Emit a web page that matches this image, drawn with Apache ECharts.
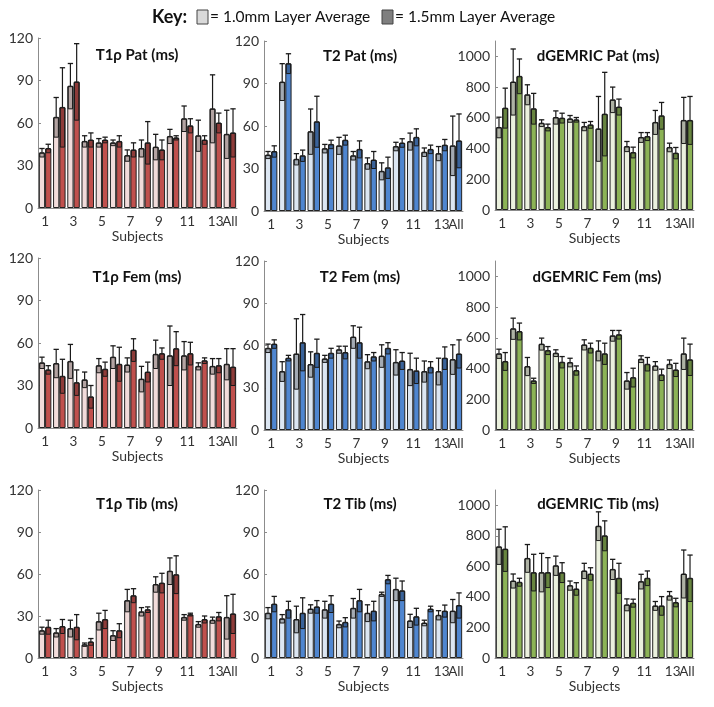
<!DOCTYPE html>
<html>
<head>
<meta charset="utf-8">
<script src="https://cdn.jsdelivr.net/npm/echarts@6/dist/echarts.min.js"></script>
<style>html,body{margin:0;padding:0;background:#fff}#c{width:714px;height:707px}</style>
</head>
<body>
<div id="c"></div>
<script>
const categories = ['1','2','3','4','5','6','7','8','9','10','11','12','13','All'];
const yTicksT = [0, 30, 60, 90, 120];
const yTicksD = [0, 200, 400, 600, 800, 1000];

// T1rho Pat
const t1rPat10 = [39,64,86,47,46,46,37,42,43,50.5,63,51,70,52];
const t1rPat10SD = [3,14,16,4,3,2,4,6,9,5,9,11,24,17];
const t1rPat15 = [42,71,89,48,48,47,41,46,41,49.5,58,48,60,53];
const t1rPat15SD = [3,28,27,5,2,4,5,15,7,1.5,5,3,7,17];
// T2 Pat
const t2Pat10 = [39.5,91,36.5,56,44,46,39,33.5,28,45.5,49,41.5,40.5,46];
const t2Pat10SD = [2.5,13,4,16,3,6,3,4,6,3,6,3,5,21];
const t2Pat15 = [42,104,39,63,47,50,43.5,36,30.5,48,52,43.5,46.5,49.5];
const t2Pat15SD = [4,7,4,18,3,3.5,6,6,7.5,3,6,3,4,19];
// dGEMRIC Pat
const dgPat10 = [537,833,750,565,602,593,543,528,717,413,472,570,407,583];
const dgPat10SD = [67,215,65,22,43,22,27,211,83,33,32,78,28,150];
const dgPat15 = [663,870,659,537,598,587,554,624,670,374,478,613,370,583];
const dgPat15SD = [130,113,100,22,32,15,22,272,52,35,26,87,37,156];
// T1rho Fem
const t1rFem10 = [46,45.5,47,34,44,50,44.5,34.5,52,51,51,43.5,43.5,45];
const t1rFem10SD = [4,10,12,5.5,5,8,5,9,10,21,10,2.5,5.5,11];
const t1rFem15 = [41,36.5,32,22,41.5,45,55,39.5,52.5,56,52.5,47.5,44,43];
const t1rFem15SD = [3,12,9,8,5,12,8,7,4,12,8,2,5,13];
// T2 Fem
const t2Fem10 = [58,41.5,54,46.5,50.5,57,66,48.5,52.5,48,43,41.5,41.5,50];
const t2Fem10SD = [3,7,25,9,2.5,2.5,8,5,8,9,11.5,7.5,9.5,10.5];
const t2Fem15 = [61,51,62,54.5,54.5,55,62,52,58,49,42,44.5,51,54];
const t2Fem15SD = [3,2,20,10,3.5,4.5,11,3,4,6,9,4,8,10];
// dGEMRIC Fem
const dgFem10 = [496,659,413,559,500,439,554,515,613,320,461,417,428,496];
const dgFem10SD = [30,69,59,39,22,28,33,65,35,54,22,28,28,102];
const dgFem15 = [446,641,320,517,441,387,533,496,620,341,428,359,391,457];
const dgFem15SD = [58,55,17,26,37,30,32,69,28,61,44,37,43,102];
// T1rho Tib
const t1rTib10 = [19.5,18,21,9.5,26,16,41,33,52.5,62,29,24,27,29];
const t1rTib10SD = [2.5,3,6,1.2,6,3.5,8,3,5.5,9.5,2,2,2.2,15.5];
const t1rTib15 = [22,22.5,22,11.5,27.5,19.5,44.5,34.5,53.5,59.5,31,27.5,29.5,31.5];
const t1rTib15SD = [5,5,9,2.4,6.5,5,5,2,7,13.5,1,2.5,3,14];
// T2 Tib
const t2Tib10 = [32,28,27.5,35,34.5,24,35.5,32,45.5,49,26.5,25,30.5,33.5];
const t2Tib10SD = [4,3,9.5,3,6,2.4,7,6,1.5,8,4.7,2,3.3,8.3];
const t2Tib15 = [38.5,34.5,32,36.5,38.5,25.5,41,33.5,56,48,29.5,35,33.5,37.5];
const t2Tib15SD = [5.5,6,11,4.5,6,3.3,8,7,3,7,6,2,4.3,9];
// dGEMRIC Tib
const dgTib10 = [728,504,652,559,604,474,570,863,580,348,500,341,407,550];
const dgTib10SD = [115,46,91,126,63,30,50,94,66,39,48,29,28,157];
const dgTib15 = [713,496,559,559,559,452,550,800,522,359,522,341,363,522];
const dgTib15SD = [146,26,120,98,65,41,41,98,98,26,48,61,28,152];

const titles = ['T1\u03C1 Pat (ms)','T2 Pat (ms)','dGEMRIC Pat (ms)',
                'T1\u03C1 Fem (ms)','T2 Fem (ms)','dGEMRIC Fem (ms)',
                'T1\u03C1 Tib (ms)','T2 Tib (ms)','dGEMRIC Tib (ms)'];

const panels = [
  {m10:t1rPat10,s10:t1rPat10SD,m15:t1rPat15,s15:t1rPat15SD,kind:'r'},
  {m10:t2Pat10,s10:t2Pat10SD,m15:t2Pat15,s15:t2Pat15SD,kind:'b'},
  {m10:dgPat10,s10:dgPat10SD,m15:dgPat15,s15:dgPat15SD,kind:'g'},
  {m10:t1rFem10,s10:t1rFem10SD,m15:t1rFem15,s15:t1rFem15SD,kind:'r'},
  {m10:t2Fem10,s10:t2Fem10SD,m15:t2Fem15,s15:t2Fem15SD,kind:'b'},
  {m10:dgFem10,s10:dgFem10SD,m15:dgFem15,s15:dgFem15SD,kind:'g'},
  {m10:t1rTib10,s10:t1rTib10SD,m15:t1rTib15,s15:t1rTib15SD,kind:'r'},
  {m10:t2Tib10,s10:t2Tib10SD,m15:t2Tib15,s15:t2Tib15SD,kind:'b'},
  {m10:dgTib10,s10:dgTib10SD,m15:dgTib15,s15:dgTib15SD,kind:'g'}
];

const palette = {
  r: {light:'#f2dcdb', dark:'#c0504d'},
  b: {light:'#dce6f2', dark:'#4f86d0'},
  g: {light:'#ebf1de', dark:'#8cb356'}
};

// layout: [left, top, width, height]
const gridBoxes = [
  [38,38,199,170],[264,41,199,170],[495,41,199,169],
  [38,258,199,170],[264,261,199,169],[495,261,199,169],
  [38,490,199,168],[264,490,199,168],[495,490,199,168]
];
const titlePos = [
  [137,55],[360,56],[598,56],
  [137,277],[360,277],[597,277],
  [137,504],[360,504],[598,504]
];

const FONT = 'Lato, "Open Sans", sans-serif';
const GAP = 0.12;

function errRenderer(sign) {
  return function (params, api) {
    const i = api.value(0), m = api.value(1), sd = api.value(2);
    const band = api.size([1, 0])[0];
    const bw = band * (1 - GAP) / 2;
    const cx = api.coord([i, 0])[0] + sign * bw / 2;
    const yTop = api.coord([i, m + sd])[1];
    const yMean = api.coord([i, m])[1];
    const yLow = api.coord([i, Math.max(0, m - sd)])[1];
    const boxW = bw * 0.7, capW = bw * 0.85;
    return {
      type: 'group',
      children: [
        {type:'rect', shape:{x:cx-boxW/2, y:yMean, width:boxW, height:yLow-yMean},
         style:{fill:'rgba(0,0,0,0.26)', stroke:'#1a1a1a', lineWidth:1}},
        {type:'line', shape:{x1:cx, y1:yMean, x2:cx, y2:yTop},
         style:{stroke:'#1a1a1a', lineWidth:1.2}},
        {type:'line', shape:{x1:cx-capW/2, y1:yTop, x2:cx+capW/2, y2:yTop},
         style:{stroke:'#1a1a1a', lineWidth:1.3}}
      ]
    };
  };
}

const grid = [], xAxis = [], yAxis = [], series = [], graphic = [];
panels.forEach((p, k) => {
  const g = gridBoxes[k];
  grid.push({left:g[0], top:g[1], width:g[2], height:g[3], containLabel:false});
  xAxis.push({
    type:'category', gridIndex:k, data:categories,
    axisLine:{show:true, lineStyle:{color:'#8c8c8c', width:1}},
    axisTick:{show:false},
    axisLabel:{
      interval:0, hideOverlap:false,
      formatter:(v, idx) => (idx % 2 === 0 || idx === categories.length - 1) ? v : '',
      color:'#333', fontSize:13.5, fontFamily:FONT, margin:7
    },
    name:'Subjects', nameLocation:'middle', nameGap:21,
    nameTextStyle:{color:'#333', fontSize:14, fontFamily:FONT}
  });
  const isD = p.kind === 'g';
  yAxis.push({
    type:'value', gridIndex:k, min:0, max: isD ? 1100 : 120, interval: isD ? 200 : 30,
    splitLine:{show:false},
    axisLine:{show:true, lineStyle:{color:'#8c8c8c', width:1}},
    axisTick:{show:true, inside:true, length:3, lineStyle:{color:'#8c8c8c'}},
    axisLabel:{color:'#333', fontSize:14, fontFamily:FONT, margin:5, showMaxLabel: !isD,
               formatter:(v) => (isD && v > 1000) ? '' : String(v)}
  });
  const c = palette[p.kind];
  series.push({
    type:'bar', xAxisIndex:k, yAxisIndex:k, data:p.m10,
    barGap:'0%', barCategoryGap:(GAP*100)+'%',
    itemStyle:{color:c.light, borderColor:'#222', borderWidth:1}
  });
  series.push({
    type:'bar', xAxisIndex:k, yAxisIndex:k, data:p.m15,
    barGap:'0%', barCategoryGap:(GAP*100)+'%',
    itemStyle:{color:c.dark, borderColor:'#222', borderWidth:1}
  });
  series.push({
    type:'custom', xAxisIndex:k, yAxisIndex:k, z:5,
    renderItem: errRenderer(-1),
    encode:{x:0, y:1},
    data:p.m10.map((v, i) => [i, v, p.s10[i]])
  });
  series.push({
    type:'custom', xAxisIndex:k, yAxisIndex:k, z:5,
    renderItem: errRenderer(1),
    encode:{x:0, y:1},
    data:p.m15.map((v, i) => [i, v, p.s15[i]])
  });
  graphic.push({
    type:'text', x:titlePos[k][0], y:titlePos[k][1], z:10,
    style:{text:titles[k], fontSize:15, fontWeight:'bold', fontFamily:FONT, fill:'#111',
           textAlign:'center', textVerticalAlign:'middle'}
  });
});

// key
graphic.push(
  {type:'text', x:152, y:17, style:{text:'Key:', fontSize:18, fontWeight:'bold', fontFamily:FONT, fill:'#111', textVerticalAlign:'middle'}},
  {type:'rect', shape:{x:197, y:10, width:11, height:14}, style:{fill:'#d9d9d9', stroke:'#444', lineWidth:1}},
  {type:'text', x:210, y:17, style:{text:'= 1.0mm Layer Average', fontSize:15.5, fontFamily:FONT, fill:'#111', textVerticalAlign:'middle'}},
  {type:'rect', shape:{x:382, y:10, width:11, height:14}, style:{fill:'#7f7f7f', stroke:'#444', lineWidth:1}},
  {type:'text', x:395, y:17, style:{text:'= 1.5mm Layer Average', fontSize:15.5, fontFamily:FONT, fill:'#111', textVerticalAlign:'middle'}}
);

const chart = echarts.init(document.getElementById('c'), null, {renderer:'canvas'});
chart.setOption({animation:false, backgroundColor:'#fff', grid, xAxis, yAxis, series, graphic});
</script>
</body>
</html>
